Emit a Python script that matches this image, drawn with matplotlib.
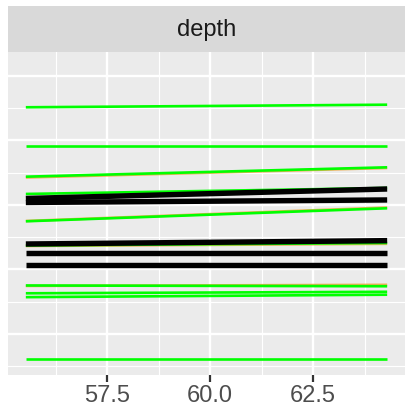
import matplotlib
matplotlib.use("Agg")
import matplotlib.pyplot as plt
from matplotlib.ticker import MultipleLocator

# x positions of the two ends of every segment
x_ends = [55.53, 64.30]

# y values (left end, right end) per series
green_lines = [
    (3.515, 3.555),
    (2.910, 2.910),
    (2.439, 2.584),
    (2.171, 2.264),
    (1.747, 1.949),
    (1.372, 1.411),
    (0.752, 0.740),
    (0.631, 0.654),
    (0.571, 0.609),
    (-0.392, -0.392),
]
orange_lines = [
    (2.426, 2.574),
    (1.752, 1.961),
    (1.364, 1.398),
    (0.745, 0.762),
]
black_lines = [
    (2.101, 2.248),
    (2.039, 2.078),
    (1.395, 1.447),
    (1.256, 1.256),
    (1.070, 1.070),
]

x_ticks = [57.5, 60.0, 62.5]
x_tick_labels = ["57.5", "60.0", "62.5"]
strip_label = "depth"

W, H = 419, 414


def main():
    plt.rcParams['font.family'] = ['Liberation Sans', 'DejaVu Sans']
    fig = plt.figure(figsize=(W / 100, H / 100), dpi=100)

    ax = fig.add_axes([8 / W, 1 - 376 / H, 397 / W, 323 / H])
    ax.set_facecolor('#EBEBEB')
    for s in ax.spines.values():
        s.set_visible(False)

    for y0, y1 in orange_lines:
        ax.plot(x_ends, [y0, y1], color='#F0A030', lw=1.9, alpha=0.8,
                solid_capstyle='butt', zorder=3)
    for y0, y1 in green_lines:
        ax.plot(x_ends, [y0, y1], color='#00FF00', lw=1.9, solid_capstyle='butt', zorder=4)
    for y0, y1 in black_lines:
        ax.plot(x_ends, [y0, y1], color='black', lw=3.9, solid_capstyle='butt', zorder=5)

    ax.set_xlim(55.097, 64.733)
    ax.set_ylim(-0.636, 4.372)

    ax.set_xticks(x_ticks)
    ax.set_xticklabels(x_tick_labels)
    ax.xaxis.set_minor_locator(MultipleLocator(1.25))
    ax.yaxis.set_major_locator(MultipleLocator(1))
    ax.yaxis.set_minor_locator(MultipleLocator(0.5))
    ax.set_yticklabels([])

    ax.grid(which='major', color='white', lw=1.7, zorder=1)
    ax.grid(which='minor', color='white', lw=0.85, zorder=1)
    ax.set_axisbelow(True)

    ax.tick_params(axis='x', which='major', length=4.8, width=1.6, color='#333333',
                   labelsize=17, labelcolor='#4D4D4D', pad=2)
    ax.tick_params(axis='x', which='minor', length=0)
    ax.tick_params(axis='y', which='both', length=0, left=False, labelleft=False)

    strip = fig.add_axes([8 / W, 1 - 53 / H, 397 / W, 46 / H])
    strip.set_facecolor('#D9D9D9')
    strip.set_xticks([])
    strip.set_yticks([])
    for s in strip.spines.values():
        s.set_visible(False)
    strip.text(0.5, 0.5, strip_label, ha='center', va='center', fontsize=17,
               color='#1A1A1A', transform=strip.transAxes)

    fig.savefig("out.png", dpi=100)


if __name__ == '__main__':
    main()
